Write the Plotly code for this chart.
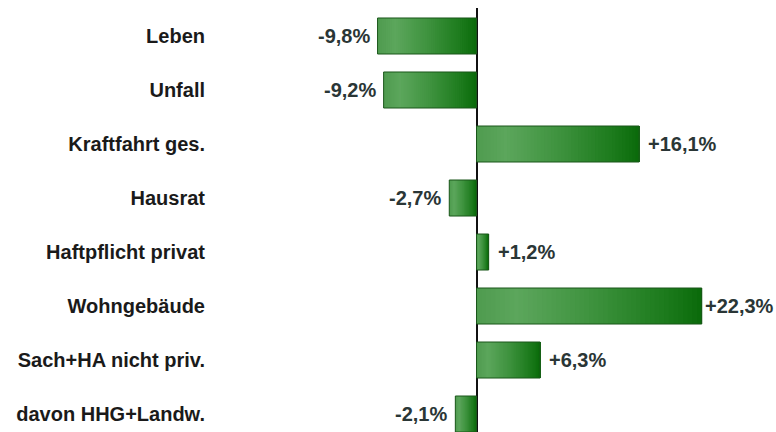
import plotly.graph_objects as go
from plotly.colors import sample_colorscale

categories = ["Leben", "Unfall", "Kraftfahrt ges.", "Hausrat", "Haftpflicht privat",
              "Wohngebäude", "Sach+HA nicht priv.", "davon HHG+Landw."]
values = [-9.8, -9.2, 16.1, -2.7, 1.2, 22.3, 6.3, -2.1]
value_labels = ["-9,8%", "-9,2%", "+16,1%", "-2,7%", "+1,2%", "+22,3%", "+6,3%", "-2,1%"]

gradient = [[0.0, "#4f9b4f"], [0.18, "#5ca65c"], [0.5, "#3f933f"],
            [0.85, "#1b7a1b"], [1.0, "#0a6a0a"]]
N = 48

fig = go.Figure()
for k in range(N):
    t = (k + 0.5) / N
    col = sample_colorscale(gradient, [t])[0]
    # each layer runs from its start to the far right end of the bar; later layers cover the right part
    bases = [min(v, 0) + abs(v) * k / N for v in values]
    widths = [abs(v) * (N - k) / N for v in values]
    fig.add_trace(go.Bar(
        y=categories, x=widths, base=bases, orientation="h",
        marker=dict(color=col, line=dict(width=0)),
        width=0.667, showlegend=False, hoverinfo="skip"))

# outline
fig.add_trace(go.Bar(
    y=categories, x=values, base=[0] * len(values), orientation="h",
    marker=dict(color="rgba(0,0,0,0)", line=dict(color="#1a571a", width=1)),
    width=0.667, showlegend=False, hoverinfo="skip"))

vmax = max(values)
for cat, v, lab in zip(categories, values, value_labels):
    if v >= 0:
        shift = 1 if v == vmax else 7
    else:
        shift = -6
    fig.add_annotation(
        x=v, y=cat, text=lab, showarrow=False,
        xanchor="left" if v >= 0 else "right",
        xshift=shift,
        font=dict(family="Liberation Sans", size=20, color="#2a3636", weight="bold"))

fig.update_layout(
    width=776, height=432,
    margin=dict(l=210, r=0, t=8, b=0),
    paper_bgcolor="white", plot_bgcolor="white",
    barmode="overlay",
    xaxis=dict(range=[-26.39, 29.65], showgrid=False, showticklabels=False,
               zeroline=True, zerolinecolor="#111111", zerolinewidth=1.5,
               showline=False, ticks=""),
    yaxis=dict(categoryorder="array", categoryarray=categories,
               range=[7.333, -0.5185], showgrid=False, zeroline=False,
               ticks="", ticklabelstandoff=4,
               tickfont=dict(family="Liberation Sans", size=20, color="#1a1a1a",
                             weight="bold")),
)

fig.write_html("out.html", config={"displayModeBar": False},
               post_script="document.body.style.margin='0';document.body.style.overflow='hidden';")
